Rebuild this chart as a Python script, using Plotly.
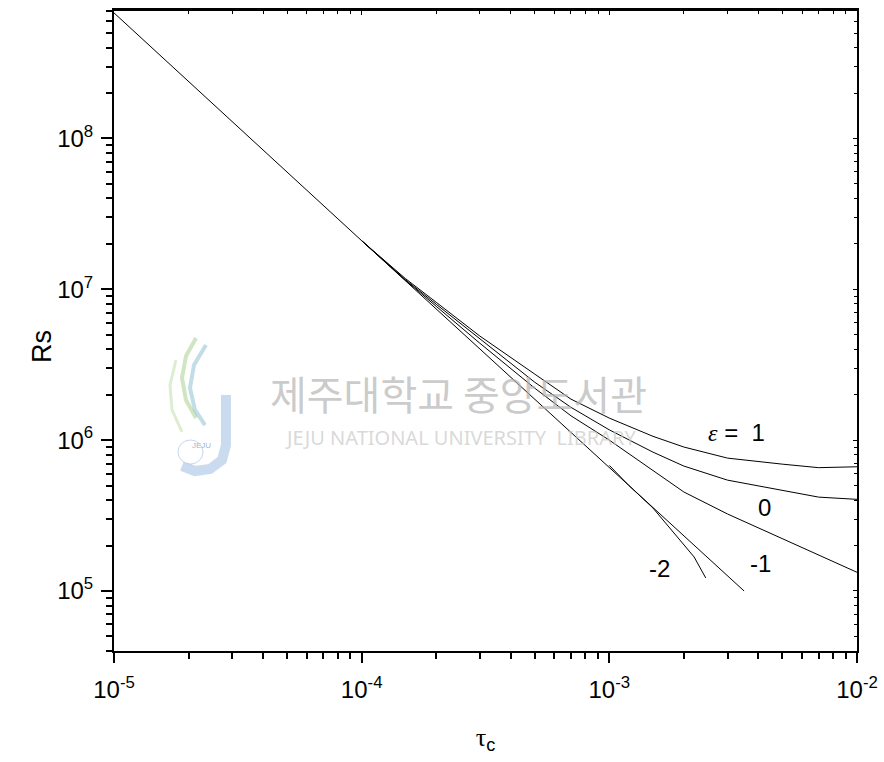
import numpy as np
import plotly.graph_objects as go

# ---- data -------------------------------------------------------------
# straight reference line (slope -1.5 in log-log)
tau_ref = [1e-5, 1e-4, 3.5e-3]
rs_ref = [6.8e8, 2.1e7, 1.0e5]

# common abscissae for the epsilon = 1, 0, -1 curves
tau_eps = [1e-4, 1.5e-4, 2e-4, 3e-4, 5e-4, 7e-4, 1e-3, 1.5e-3, 2e-3, 3e-3, 5e-3, 7e-3, 1e-2]
rs_eps_p1 = [2.1e7, 1.18e7, 8.2e6, 4.9e6, 2.74e6, 1.87e6, 1.40e6, 1.06e6, 9.0e5, 7.6e5, 6.93e5, 6.57e5, 6.66e5]
rs_eps_0 = [2.1e7, 1.16e7, 7.96e6, 4.67e6, 2.42e6, 1.65e6, 1.17e6, 8.33e5, 6.73e5, 5.43e5, 4.63e5, 4.19e5, 4.05e5]
rs_eps_m1 = [2.1e7, 1.15e7, 7.71e6, 4.39e6, 2.21e6, 1.45e6, 1.0e6, 6.33e5, 4.53e5, 3.24e5, 2.21e5, 1.73e5, 1.33e5]

# epsilon = -2 branch
tau_m2 = [1e-3, 1.2e-3, 1.5e-3, 1.8e-3, 2.0e-3, 2.2e-3, 2.45e-3]
rs_m2 = [6.8e5, 5.0e5, 3.55e5, 2.5e5, 2.03e5, 1.68e5, 1.22e5]

# curve labels
label_text = ['<span style="font-family:Liberation Serif;font-style:italic">ε</span> =  1', "0", "-1", "-2"]
label_tau = [3.27e-3, 4.25e-3, 4.06e-3, 1.6e-3]
label_rs = [1.13e6, 3.55e5, 1.53e5, 1.40e5]

# axis ticks
x_major = [1e-5, 1e-4, 1e-3, 1e-2]
x_major_text = ["10<sup>-5</sup>", "10<sup>-4</sup>", "10<sup>-3</sup>", "10<sup>-2</sup>"]
y_major = [1e5, 1e6, 1e7, 1e8]
y_major_text = ["10<sup>5</sup>", "10<sup>6</sup>", "10<sup>7</sup>", "10<sup>8</sup>"]
x_minor = [m * 10.0 ** e for e in range(-5, -2) for m in range(2, 10)]
y_minor = [m * 10.0 ** e for e in range(4, 9) for m in range(2, 10)]

X_RANGE = [-5, -2]
Y_RANGE = [np.log10(4e4), np.log10(7e8)]

SANS = "Liberation Sans, Arial, sans-serif"

# ---- figure -----------------------------------------------------------
fig = go.Figure()
line_style = dict(color="black", width=1)
for xs, ys in [(tau_ref, rs_ref), (tau_eps, rs_eps_p1), (tau_eps, rs_eps_0),
               (tau_eps, rs_eps_m1), (tau_m2, rs_m2)]:
    fig.add_trace(go.Scatter(x=xs, y=ys, mode="lines", line=line_style,
                             showlegend=False, hoverinfo="skip"))

# empty trace so the mirrored top/right axes are drawn
fig.add_trace(go.Scatter(x=[], y=[], xaxis="x2", yaxis="y2", showlegend=False))

tick_font = dict(family=SANS, size=24, color="black")

fig.update_layout(
    width=884, height=762,
    margin=dict(l=114, r=27, t=11, b=111),
    paper_bgcolor="white", plot_bgcolor="white",
    xaxis=dict(
        type="log", range=X_RANGE, showgrid=False, zeroline=False,
        showline=True, linecolor="black", linewidth=2,
        tickmode="array", tickvals=x_major, ticktext=x_major_text,
        ticks="outside", ticklen=10, tickwidth=2, tickcolor="black",
        tickfont=tick_font, ticklabelstandoff=6,
        minor=dict(tickmode="array", tickvals=x_minor, ticks="outside",
                   ticklen=6, tickwidth=2, tickcolor="black", showgrid=False),
        title=dict(text='<span style="font-family:Liberation Serif">τ</span><sub>c</sub>',
                   font=dict(family=SANS, size=26, color="black"),
                   standoff=26),
        automargin=False,
    ),
    yaxis=dict(
        type="log", range=Y_RANGE, showgrid=False, zeroline=False,
        showline=True, linecolor="black", linewidth=2,
        tickmode="array", tickvals=y_major, ticktext=y_major_text,
        ticks="outside", ticklen=11, tickwidth=2, tickcolor="black",
        tickfont=tick_font, ticklabelstandoff=3,
        minor=dict(tickmode="array", tickvals=y_minor, ticks="outside",
                   ticklen=6, tickwidth=2, tickcolor="black", showgrid=False),
        automargin=False,
    ),
    xaxis2=dict(
        type="log", range=X_RANGE, overlaying="x", side="top", anchor="y",
        showgrid=False, zeroline=False, showline=True, linecolor="black", linewidth=3,
        tickmode="array", tickvals=x_major, ticks="inside", ticklen=4, tickwidth=1,
        tickcolor="black", showticklabels=False,
        minor=dict(tickmode="array", tickvals=x_minor, ticks="inside",
                   ticklen=3, tickwidth=1, tickcolor="black", showgrid=False),
    ),
    yaxis2=dict(
        type="log", range=Y_RANGE, overlaying="y", side="right", anchor="x",
        showgrid=False, zeroline=False, showline=True, linecolor="black", linewidth=2,
        tickmode="array", tickvals=y_major, ticks="inside", ticklen=4, tickwidth=1,
        tickcolor="black", showticklabels=False,
        minor=dict(tickmode="array", tickvals=y_minor, ticks="inside",
                   ticklen=3, tickwidth=1, tickcolor="black", showgrid=False),
    ),
)


def px(x):
    return (x - 114) / 743.0


def py(y):
    return (651 - y) / 640.0


# y-axis title, rotated and set slightly below the plot's mid-height
fig.add_annotation(x=px(25), y=py(347), xref="paper", yref="paper", showarrow=False,
                   text="Rs", textangle=-90,
                   font=dict(family=SANS, size=27, color="black"))

# curve labels (annotation coordinates on log axes are log10 values)
for txt, tx, ry in zip(label_text, label_tau, label_rs):
    fig.add_annotation(x=np.log10(tx), y=np.log10(ry), xref="x", yref="y",
                       text=txt, showarrow=False,
                       font=dict(family=SANS, size=24, color="black"))

# ---- library watermark ------------------------------------------------
fig.add_annotation(x=px(458), y=py(393), xref="paper", yref="paper", showarrow=False,
                   text="제주대학교 중앙도서관",
                   font=dict(family="Noto Sans CJK KR", size=40, color="rgba(180,180,180,0.7)"))
fig.add_annotation(x=px(461), y=py(437), xref="paper", yref="paper", showarrow=False,
                   text="JEJU NATIONAL UNIVERSITY  LIBRARY",
                   font=dict(family="Noto Sans, Arial, sans-serif", size=20, color="rgba(200,200,200,0.7)"))


def path(points):
    s = "M {:.4f},{:.4f}".format(px(points[0][0]), py(points[0][1]))
    for a, b in points[1:]:
        s += " L {:.4f},{:.4f}".format(px(a), py(b))
    return s


# stylised logo: swooshes and a "J"
fig.add_shape(type="path", xref="paper", yref="paper", layer="below",
              path=path([(196, 338), (186, 356), (182, 378), (186, 400), (196, 418)]),
              line=dict(color="rgba(150,200,120,0.45)", width=4))
fig.add_shape(type="path", xref="paper", yref="paper", layer="below",
              path=path([(206, 345), (194, 365), (190, 388), (195, 410), (205, 425)]),
              line=dict(color="rgba(120,180,200,0.45)", width=4))
fig.add_shape(type="path", xref="paper", yref="paper", layer="below",
              path=path([(176, 360), (170, 385), (172, 410), (182, 432)]),
              line=dict(color="rgba(170,210,140,0.4)", width=3))
fig.add_shape(type="path", xref="paper", yref="paper", layer="below",
              path=path([(226, 395), (226, 445), (222, 460), (210, 469), (195, 471), (182, 466)]),
              line=dict(color="rgba(140,175,220,0.45)", width=10))
fig.add_shape(type="circle", xref="paper", yref="paper", layer="below",
              x0=px(178), x1=px(203), y0=py(464), y1=py(440),
              line=dict(color="rgba(140,175,220,0.5)", width=1), fillcolor="rgba(255,255,255,0.8)")
fig.add_annotation(x=px(190), y=py(452), xref="paper", yref="paper", showarrow=False,
                   text="JEJU", font=dict(family="Arial", size=8, color="rgba(150,170,200,0.9)"))

fig.write_html("out.html")
